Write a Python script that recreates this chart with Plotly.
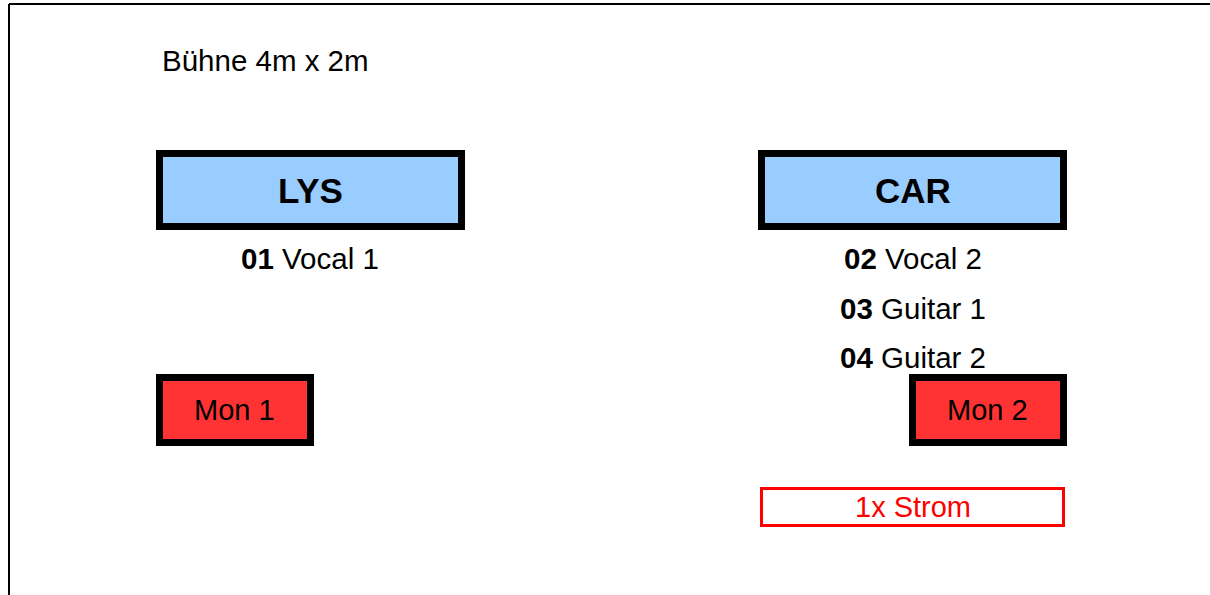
import plotly.graph_objects as go

# ---- data ----
stage_title = "Bühne 4m x 2m"
performers = ["LYS", "CAR"]
channel_nums = ["01", "02", "03", "04"]
channel_names = ["Vocal 1", "Vocal 2", "Guitar 1", "Guitar 2"]
channel_owner = ["LYS", "CAR", "CAR", "CAR"]
monitors = ["Mon 1", "Mon 2"]
power_label = "1x Strom"

# ---- layout (pixel-space positions on the stage plan) ----
W, H = 1210, 595
FONT = "Liberation Sans, Arial, sans-serif"
BLUE = "#99CCFF"
RED = "#FF3333"
STROM = "#FF0000"

performer_box = {"LYS": (159.5, 153.5, 461.5, 226.5), "CAR": (761.5, 153.5, 1063.5, 226.5)}
monitor_box = {"Mon 1": (159.5, 377.5, 310.5, 442.5), "Mon 2": (912.5, 377.5, 1063.5, 442.5)}
power_box = (761.5, 488.5, 1063.5, 525.5)
channel_x = {"LYS": 310, "CAR": 913}
channel_y0 = 258.5
channel_dy = 49.5

fig = go.Figure()
shapes = []
annotations = []

# stage outline (top and left edges visible)
shapes.append(dict(type="line", xref="x", yref="y", x0=9, y0=4, x1=W + 20, y1=4,
                   line=dict(color="black", width=2)))
shapes.append(dict(type="line", xref="x", yref="y", x0=9, y0=4, x1=9, y1=H + 20,
                   line=dict(color="black", width=2)))

annotations.append(dict(x=160, y=60, xref="x", yref="y", text=stage_title, showarrow=False,
                        xanchor="left", yanchor="middle",
                        font=dict(family=FONT, size=29.5, color="black")))

for p in performers:
    x0, y0, x1, y1 = performer_box[p]
    shapes.append(dict(type="rect", xref="x", yref="y", x0=x0, y0=y0, x1=x1, y1=y1,
                       fillcolor=BLUE, line=dict(color="black", width=7), layer="below"))
    annotations.append(dict(x=(x0 + x1) / 2, y=(y0 + y1) / 2, xref="x", yref="y",
                            text=f"<b>{p}</b>", showarrow=False,
                            font=dict(family=FONT, size=35, color="black")))

counts = {}
for num, name, owner in zip(channel_nums, channel_names, channel_owner):
    k = counts.get(owner, 0)
    counts[owner] = k + 1
    annotations.append(dict(x=channel_x[owner], y=channel_y0 + k * channel_dy, xref="x", yref="y",
                            text=f"<b>{num}</b> {name}", showarrow=False,
                            font=dict(family=FONT, size=29.5, color="black")))

for m in monitors:
    x0, y0, x1, y1 = monitor_box[m]
    shapes.append(dict(type="rect", xref="x", yref="y", x0=x0, y0=y0, x1=x1, y1=y1,
                       fillcolor=RED, line=dict(color="black", width=7), layer="below"))
    annotations.append(dict(x=(x0 + x1) / 2 - 1, y=(y0 + y1) / 2, xref="x", yref="y",
                            text=m, showarrow=False,
                            font=dict(family=FONT, size=29, color="black")))

x0, y0, x1, y1 = power_box
shapes.append(dict(type="rect", xref="x", yref="y", x0=x0, y0=y0, x1=x1, y1=y1,
                   fillcolor="white", line=dict(color=STROM, width=3), layer="below"))
annotations.append(dict(x=(x0 + x1) / 2, y=(y0 + y1) / 2, xref="x", yref="y",
                        text=power_label, showarrow=False,
                        font=dict(family=FONT, size=29, color=STROM)))

fig.update_layout(
    width=W, height=H,
    margin=dict(l=0, r=0, t=0, b=0),
    paper_bgcolor="white", plot_bgcolor="white",
    xaxis=dict(range=[0, W], visible=False, fixedrange=True),
    yaxis=dict(range=[H, 0], visible=False, fixedrange=True),
    shapes=shapes, annotations=annotations,
    showlegend=False,
)

fig.write_html("out.html", config={"displayModeBar": False},
               post_script="document.body.style.margin='0';document.body.style.overflow='hidden';")
